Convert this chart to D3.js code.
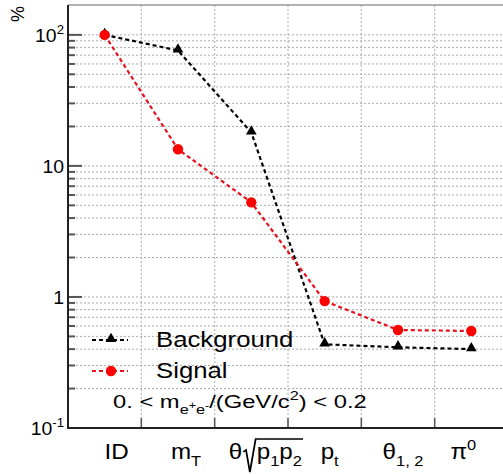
<!DOCTYPE html>
<meta charset="utf-8">
<script src="https://d3js.org/d3.v7.min.js"></script>
<style>
  body { margin: 0; background: #fff; }
  text { font-family: "Liberation Sans", Arial, sans-serif; fill: #000; }
</style>
<div id="my_dataviz"></div>
<script>

// categories (cut steps) and efficiencies in %
var categories = ["ID", "mT", "theta_sqrt", "pt", "theta12", "pi0"];
var background = [100, 76, 18, 0.435, 0.413, 0.40];
var signal     = [100, 13.4, 5.27, 0.93, 0.56, 0.55];
var yTickValues = [0.1, 1, 10, 100];
var yTickLabels = [[["10",""],["-1","sup"]], [["1",""]], [["10",""]], [["10",""],["2","sup"]]];

// rich labels for the x categories
var catLabels = [
  [["ID",""]],
  [["m",""],["T","sub"]],
  [["θ",""],["","root"],["p",""],["1","sub"],["p",""],["2","sub"]],
  [["p",""],["t","sub"]],
  [["θ",""],["1, 2","sub"]],
  [["π",""],["0","sup"]]
];
var labelNudge = [12, 8, 14, 5, 5, -8];

var W = 503, H = 474;
var mLeft = 68, mRight = 508, mTop = 5, mBottom = 428;

var svg = d3.select("#my_dataviz")
  .append("svg")
    .attr("width", W)
    .attr("height", H);

var x = d3.scaleBand()
  .domain(categories)
  .range([mLeft, mRight]);

var y = d3.scaleLog()
  .domain([0.1, 169])
  .range([mBottom, mTop]);

// grid
var ticksY = y.ticks().filter(function(d){ return d >= 0.1 && d <= 169 });
svg.append("g").selectAll("line")
  .data(ticksY)
  .enter().append("line")
    .attr("x1", mLeft).attr("x2", W)
    .attr("y1", function(d){ return y(d) }).attr("y2", function(d){ return y(d) })
    .attr("stroke", "#aaa").attr("stroke-width", 1)
    .attr("stroke-dasharray", "2,2");

var bounds = categories.slice(1);
svg.append("g").selectAll("line")
  .data(bounds)
  .enter().append("line")
    .attr("x1", function(d){ return x(d) }).attr("x2", function(d){ return x(d) })
    .attr("y1", mTop).attr("y2", mBottom)
    .attr("stroke", "#aaa").attr("stroke-width", 1)
    .attr("stroke-dasharray", "2,2");

// left axis ticks (inward)
svg.append("g").selectAll("line")
  .data(ticksY)
  .enter().append("line")
    .attr("x1", mLeft)
    .attr("x2", function(d){ return yTickValues.indexOf(d) >= 0 ? mLeft + 14 : mLeft + 7 })
    .attr("y1", function(d){ return y(d) }).attr("y2", function(d){ return y(d) })
    .attr("stroke", "#555").attr("stroke-width", 2);

// bottom ticks (inward)
svg.append("g").selectAll("line")
  .data(bounds)
  .enter().append("line")
    .attr("x1", function(d){ return x(d) }).attr("x2", function(d){ return x(d) })
    .attr("y1", mBottom).attr("y2", mBottom - 10)
    .attr("stroke", "#555").attr("stroke-width", 1.5);

// frame
svg.append("line").attr("x1", mLeft).attr("x2", W).attr("y1", mTop).attr("y2", mTop)
  .attr("stroke", "#666").attr("stroke-width", 1.2);
svg.append("line").attr("x1", mLeft).attr("x2", mLeft).attr("y1", mTop).attr("y2", mBottom + 1)
  .attr("stroke", "#222").attr("stroke-width", 2);
svg.append("line").attr("x1", mLeft - 1).attr("x2", W).attr("y1", mBottom).attr("y2", mBottom)
  .attr("stroke", "#222").attr("stroke-width", 2);

// rich text helper
function richText(g, parts, size, anchor) {
  var t = g.append("text").attr("font-size", size).attr("text-anchor", anchor || "start");
  var shift = 0;
  parts.forEach(function(p) {
    var target = p[1] == "sub" ? size * 0.33 : p[1] == "sup" ? -size * 0.42 : 0;
    t.append("tspan")
      .attr("dy", target - shift)
      .attr("font-size", p[1] == "" || p[1] == "root" ? size : size * 0.68)
      .text(p[1] == "root" ? "\u2009\u2009\u2009" : p[0]);
    shift = target;
  });
  return t;
}

// y tick labels
yTickValues.forEach(function(v, i) {
  var g = svg.append("g").attr("transform", "translate(64," + (y(v) + 7) + ") scale(1.08,1)");
  richText(g, yTickLabels[i], 18, "end");
});

// % title
svg.append("text")
  .attr("transform", "translate(24,14) rotate(-90)")
  .attr("text-anchor", "middle")
  .attr("font-size", 18)
  .text("%");

// category labels
categories.forEach(function(c, i) {
  var g = svg.append("g")
    .attr("transform", "translate(" + (x(c) + x.bandwidth() / 2 + labelNudge[i]) + ",459) scale(1.1,1)");
  var t = richText(g, catLabels[i], 22, "middle");
  var rootIdx = -1, n = 0;
  catLabels[i].forEach(function(p) {
    if (p[1] == "root") rootIdx = n;
    n += (p[1] == "root" ? 3 : p[0].length);
  });
  if (rootIdx >= 0) {
    var e0 = t.node().getExtentOfChar(rootIdx);
    var bb = t.node().getBBox();
    var x0 = e0.x, x1 = e0.x + e0.width * 3;
    g.append("path")
      .attr("d", "M" + (x0 + 1) + ",-7 L" + (x0 + 3.5) + ",-9 L" + (x0 + 7) + ",13 L" + (x1 - 1) + ",-20 L" + (bb.x + bb.width + 1) + ",-20")
      .attr("fill", "none").attr("stroke", "#000").attr("stroke-width", 1.6);
  }
});

// lines and markers
var line = d3.line()
  .x(function(d, i){ return x(categories[i]) + x.bandwidth() / 2 })
  .y(function(d){ return y(d) });

var series = [
  {name: "Background", values: background, color: "#000", marker: "#000", shape: "tri"},
  {name: "Signal", values: signal, color: "#e8101c", marker: "#ff0000", shape: "circ"}
];

series.forEach(function(s) {
  svg.append("path")
    .attr("d", line(s.values))
    .attr("fill", "none")
    .attr("stroke", s.color)
    .attr("stroke-width", 2.2)
    .attr("stroke-dasharray", "4,3");
});

var tri = d3.symbol().type(d3.symbolTriangle).size(50);
series.forEach(function(s) {
  var g = svg.append("g");
  s.values.forEach(function(v, i) {
    var cx = x(categories[i]) + x.bandwidth() / 2, cy = y(v);
    if (s.shape == "tri")
      g.append("path").attr("d", tri()).attr("transform", "translate(" + cx + "," + (cy - 1) + ")").attr("fill", s.marker);
    else
      g.append("circle").attr("cx", cx).attr("cy", cy).attr("r", 5.2).attr("fill", s.marker);
  });
});

// legend
var legY = [340, 371];
series.forEach(function(s, i) {
  svg.append("line")
    .attr("x1", 92).attr("x2", 128).attr("y1", legY[i]).attr("y2", legY[i])
    .attr("stroke", s.color).attr("stroke-width", 2.2).attr("stroke-dasharray", "4,3");
  if (s.shape == "tri")
    svg.append("path").attr("d", tri()).attr("transform", "translate(111," + (legY[i] - 1) + ")").attr("fill", s.marker);
  else
    svg.append("circle").attr("cx", 111).attr("cy", legY[i]).attr("r", 5.2).attr("fill", s.marker);
  svg.append("g")
    .attr("transform", "translate(156," + (legY[i] + 7) + ") scale(1.12,1)")
    .append("text").attr("font-size", 23).text(s.name);
});

// cut annotation
var ann = svg.append("g").attr("transform", "translate(113,408) scale(1.25,1)");
var at = ann.append("text").attr("font-size", 19);
at.append("tspan").text("0. < m");
at.append("tspan").attr("font-size", 13).attr("dy", 6).text("e");
at.append("tspan").attr("font-size", 10).attr("dy", -5).text("+");
at.append("tspan").attr("font-size", 13).attr("dy", 5).text("e");
at.append("tspan").attr("font-size", 10).attr("dy", -5).text("-");
at.append("tspan").attr("dy", -1).text("/(GeV/c");
at.append("tspan").attr("font-size", 13).attr("dy", -8).text("2");
at.append("tspan").attr("dy", 8).text(") < 0.2");

</script>
